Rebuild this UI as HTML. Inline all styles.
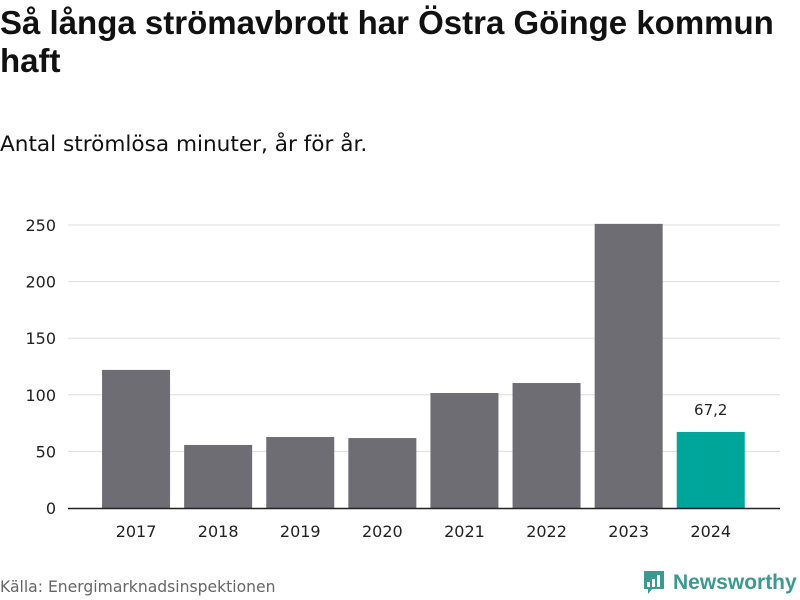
<!DOCTYPE html>
<html><head><meta charset="utf-8"><style>
body{margin:0;width:800px;height:600px;background:#fff;font-family:"DejaVu Sans","Liberation Sans",sans-serif;overflow:hidden;position:relative;color:#111}
h1{position:absolute;left:0;top:4px;margin:0;font-family:"Liberation Sans",sans-serif;font-size:33px;line-height:38px;font-weight:bold;width:800px;white-space:nowrap}
.sub{position:absolute;left:0;top:132px;font-size:21.6px}
.src{position:absolute;left:0;top:578px;font-size:15.6px;color:#666}
</style></head><body>
<h1>Så långa strömavbrott har Östra Göinge kommun<br>haft</h1>
<div class="sub">Antal strömlösa minuter, år för år.</div>
<svg id="chart" width="800" height="600" style="position:absolute;left:0;top:0"></svg>
<div class="src">Källa: Energimarknadsinspektionen</div>
<div style="position:absolute;left:642px;top:568px;height:30px;display:flex;align-items:center">
<svg width="24" height="28" viewBox="0 0 24 28"><path d="M2 2h20v18H10l-4 5v-5H2z" fill="#3a9a8f"/><rect x="5" y="13" width="3" height="5" fill="#fff"/><rect x="10" y="10" width="3" height="8" fill="#fff"/><rect x="15" y="6" width="3" height="12" fill="#fff"/></svg>
<span style="font-family:'Liberation Sans',sans-serif;font-size:21px;font-weight:bold;color:#3a9a8f;margin-left:7px">Newsworthy</span></div>
<script>
const years=["2017","2018","2019","2020","2021","2022","2023","2024"];
const values=[122,55.7,62.7,61.8,101.6,110.4,251,67.2];
const ticks=[0,50,100,150,200,250];
const ns="http://www.w3.org/2000/svg";
const svg=document.getElementById('chart');
const y0=508,pxPer=(508-225)/250;
const yS=v=>y0-v*pxPer;
const x0=95,step=82.1,bw=68;
const xS=i=>x0+i*step+(step-bw)/2;
function mk(t,a){const e=document.createElementNS(ns,t);for(const k in a)e.setAttribute(k,a[k]);svg.appendChild(e);return e;}
ticks.forEach(t=>{
 if(t>0){const l=mk('line',{x1:68,x2:780,y1:yS(t),y2:yS(t),stroke:'#ddd','stroke-width':1});
 
 }
 const tx=mk('text',{x:56,y:yS(t)+6,'text-anchor':'end','font-size':16,fill:'#222'});tx.textContent=t;
 
 
});
values.forEach((v,i)=>{
 const last=i===values.length-1;
 const r=mk('rect',{x:xS(i),y:yS(v),width:bw,height:y0-yS(v),fill:last?'#00a59a':'#6e6d73'});
 
 
 const t=mk('text',{x:xS(i)+bw/2,y:537,'text-anchor':'middle','font-size':16,fill:'#222'});t.textContent=years[i];
 
 
 if(last){const lb=mk('text',{x:xS(i)+bw/2,y:yS(v)-17,'text-anchor':'middle','font-size':15,fill:'#222'});lb.textContent=String(v).replace('.',',');
 
 }
});
const ax=mk('line',{x1:68,x2:780,y1:y0+0.5,y2:y0+0.5,stroke:'#222','stroke-width':1.5});


</script>
</body></html>
